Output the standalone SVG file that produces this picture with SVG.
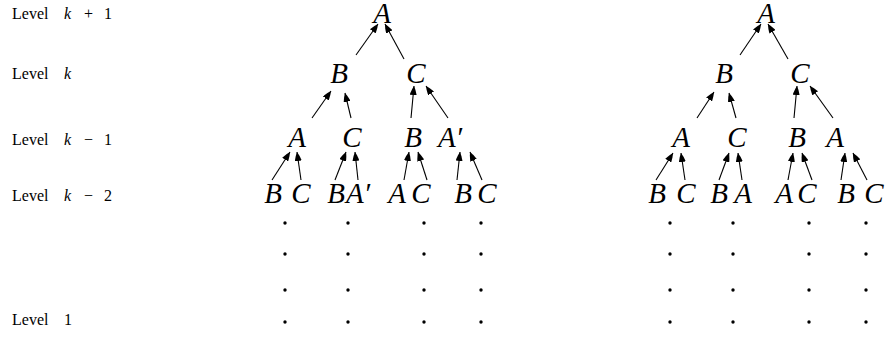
<svg xmlns="http://www.w3.org/2000/svg" width="886" height="337" viewBox="0 0 886 337">
<style>
.lbl{font-family:"Liberation Serif",serif;font-size:16px;fill:#000}
.m{font-style:italic}
.n{font-family:"Liberation Serif",serif;font-size:29px;font-style:italic;text-anchor:middle;fill:#000}
.ns{font-family:"Liberation Serif",serif;font-size:29px;font-style:italic;fill:#000}
.e{stroke:#000;stroke-width:1.1;fill:none;marker-end:url(#ah)}
.d{fill:#000}
</style>
<defs>
<marker id="ah" viewBox="0 0 10 10" markerUnits="userSpaceOnUse" markerWidth="9" markerHeight="7" refX="10" refY="5" orient="auto" preserveAspectRatio="none">
<path d="M0,0 Q6,2 10,5 Q6,8 0,10 Z" fill="#000"/>
</marker>
</defs>
<g id="labels">
<text class="lbl" y="19"><tspan x="12">Level</tspan><tspan x="64" class="m">k</tspan><tspan x="84">+</tspan><tspan x="104">1</tspan></text>
<text class="lbl" y="79"><tspan x="12">Level</tspan><tspan x="64" class="m">k</tspan></text>
<text class="lbl" y="145"><tspan x="12">Level</tspan><tspan x="64" class="m">k</tspan><tspan x="84">−</tspan><tspan x="104">1</tspan></text>
<text class="lbl" y="201"><tspan x="12">Level</tspan><tspan x="64" class="m">k</tspan><tspan x="84">−</tspan><tspan x="104">2</tspan></text>
<text class="lbl" y="325"><tspan x="12">Level</tspan><tspan x="64">1</tspan></text>
</g>
<g id="connectors">
<line class="e" x1="356" y1="55" x2="378" y2="24"/>
<line class="e" x1="404" y1="59" x2="385" y2="24"/>
<line class="e" x1="312" y1="118" x2="331" y2="91"/>
<line class="e" x1="351" y1="118" x2="345" y2="93"/>
<line class="e" x1="411" y1="118" x2="414" y2="86"/>
<line class="e" x1="448" y1="118" x2="426" y2="86"/>
<line class="e" x1="272" y1="180" x2="290" y2="152"/>
<line class="e" x1="301" y1="180" x2="297" y2="152"/>
<line class="e" x1="335" y1="180" x2="346" y2="152"/>
<line class="e" x1="358" y1="180" x2="355" y2="152"/>
<line class="e" x1="404" y1="180" x2="409" y2="152"/>
<line class="e" x1="427" y1="180" x2="418" y2="152"/>
<line class="e" x1="457" y1="180" x2="460" y2="152"/>
<line class="e" x1="482" y1="180" x2="470" y2="152"/>
<line class="e" x1="740" y1="55" x2="761" y2="24"/>
<line class="e" x1="788" y1="59" x2="768" y2="24"/>
<line class="e" x1="697" y1="118" x2="714" y2="92"/>
<line class="e" x1="736" y1="118" x2="729" y2="93"/>
<line class="e" x1="794" y1="118" x2="797" y2="86"/>
<line class="e" x1="833" y1="118" x2="810" y2="86"/>
<line class="e" x1="656" y1="180" x2="673" y2="153"/>
<line class="e" x1="685" y1="180" x2="681" y2="153"/>
<line class="e" x1="719" y1="180" x2="729" y2="153"/>
<line class="e" x1="742" y1="180" x2="738" y2="153"/>
<line class="e" x1="788" y1="180" x2="793" y2="153"/>
<line class="e" x1="812" y1="180" x2="802" y2="153"/>
<line class="e" x1="841" y1="180" x2="845" y2="153"/>
<line class="e" x1="867" y1="180" x2="853" y2="153"/>
</g>
<g id="left-tree">
<g id="L-A"><text class="n" x="382" y="23">A</text></g>
<g id="L-B"><text class="n" x="339" y="83">B</text></g>
<g id="L-C"><text class="n" x="416" y="83">C</text></g>
<g id="L-BA"><text class="n" x="297" y="147">A</text></g>
<g id="L-BC"><text class="n" x="352" y="147">C</text></g>
<g id="L-CB"><text class="n" x="413" y="147">B</text></g>
<g id="L-CA"><text class="ns" x="438" y="147">A′</text></g>
<g id="L-BAB"><text class="n" x="273" y="203">B</text></g>
<g id="L-BAC"><text class="n" x="301" y="203">C</text></g>
<g id="L-BCB"><text class="n" x="336" y="203">B</text></g>
<g id="L-BCA"><text class="ns" x="346" y="203">A′</text></g>
<g id="L-CBA"><text class="n" x="397" y="203">A</text></g>
<g id="L-CBC"><text class="n" x="421" y="203">C</text></g>
<g id="L-CAB"><text class="n" x="463" y="203">B</text></g>
<g id="L-CAC"><text class="n" x="487" y="203">C</text></g>
</g>
<g id="right-tree">
<g id="R-A"><text class="n" x="766" y="23">A</text></g>
<g id="R-B"><text class="n" x="724" y="83">B</text></g>
<g id="R-C"><text class="n" x="800" y="83">C</text></g>
<g id="R-BA"><text class="n" x="681" y="147">A</text></g>
<g id="R-BC"><text class="n" x="737" y="147">C</text></g>
<g id="R-CB"><text class="n" x="797" y="147">B</text></g>
<g id="R-CA"><text class="n" x="835" y="147">A</text></g>
<g id="R-BAB"><text class="n" x="657" y="203">B</text></g>
<g id="R-BAC"><text class="n" x="686" y="203">C</text></g>
<g id="R-BCB"><text class="n" x="719" y="203">B</text></g>
<g id="R-BCA"><text class="n" x="743" y="203">A</text></g>
<g id="R-CBA"><text class="n" x="784" y="203">A</text></g>
<g id="R-CBC"><text class="n" x="807" y="203">C</text></g>
<g id="R-CAB"><text class="n" x="846" y="203">B</text></g>
<g id="R-CAC"><text class="n" x="874" y="203">C</text></g>
</g>
<g id="dots" class="d">
<circle cx="285" cy="223" r="1.7"/><circle cx="348" cy="223" r="1.7"/><circle cx="424" cy="223" r="1.7"/><circle cx="481" cy="223" r="1.7"/>
<circle cx="670" cy="223" r="1.7"/><circle cx="733" cy="223" r="1.7"/><circle cx="809" cy="223" r="1.7"/><circle cx="866" cy="223" r="1.7"/>
<circle cx="285" cy="254" r="1.7"/><circle cx="348" cy="254" r="1.7"/><circle cx="424" cy="254" r="1.7"/><circle cx="481" cy="254" r="1.7"/>
<circle cx="670" cy="254" r="1.7"/><circle cx="733" cy="254" r="1.7"/><circle cx="809" cy="254" r="1.7"/><circle cx="866" cy="254" r="1.7"/>
<circle cx="285" cy="290" r="1.7"/><circle cx="348" cy="290" r="1.7"/><circle cx="424" cy="290" r="1.7"/><circle cx="481" cy="290" r="1.7"/>
<circle cx="670" cy="290" r="1.7"/><circle cx="733" cy="290" r="1.7"/><circle cx="809" cy="290" r="1.7"/><circle cx="866" cy="290" r="1.7"/>
<circle cx="285" cy="322" r="1.7"/><circle cx="348" cy="322" r="1.7"/><circle cx="424" cy="322" r="1.7"/><circle cx="481" cy="322" r="1.7"/>
<circle cx="670" cy="322" r="1.7"/><circle cx="733" cy="322" r="1.7"/><circle cx="809" cy="322" r="1.7"/><circle cx="866" cy="322" r="1.7"/>
</g>
</svg>
